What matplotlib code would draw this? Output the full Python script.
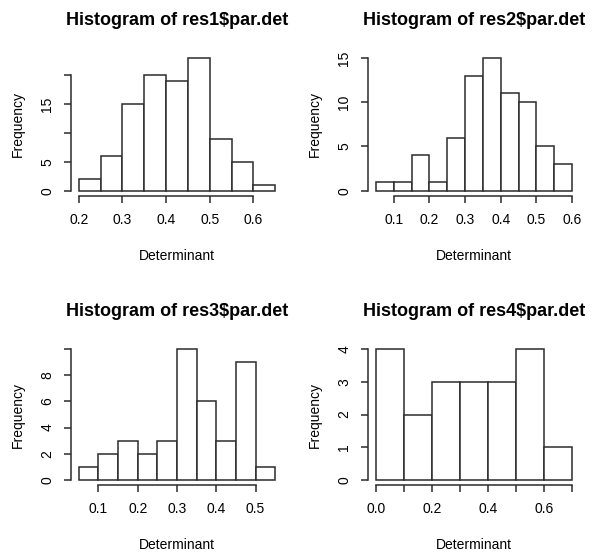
import matplotlib
matplotlib.use("Agg")
from matplotlib import pyplot as plt

plt.rcParams['font.family'] = ['Liberation Sans', 'DejaVu Sans']

# bin edges and counts for each histogram
breaks1 = [0.2, 0.25, 0.3, 0.35, 0.4, 0.45, 0.5, 0.55, 0.6, 0.65]
counts1 = [2, 6, 15, 20, 19, 23, 9, 5, 1]
breaks2 = [0.05, 0.1, 0.15, 0.2, 0.25, 0.3, 0.35, 0.4, 0.45, 0.5, 0.55, 0.6]
counts2 = [1, 1, 4, 1, 6, 13, 15, 11, 10, 5, 3]
breaks3 = [0.05, 0.1, 0.15, 0.2, 0.25, 0.3, 0.35, 0.4, 0.45, 0.5, 0.55]
counts3 = [1, 2, 3, 2, 3, 10, 6, 3, 9, 1]
breaks4 = [0.0, 0.1, 0.2, 0.3, 0.4, 0.5, 0.6, 0.7]
counts4 = [4, 2, 3, 3, 3, 4, 1]

titles = ["Histogram of res1$par.det", "Histogram of res2$par.det",
          "Histogram of res3$par.det", "Histogram of res4$par.det"]

xticks1 = [0.2, 0.3, 0.4, 0.5, 0.6]
xlabels1 = ["0.2", "0.3", "0.4", "0.5", "0.6"]
yticks1 = [0, 5, 10, 15, 20]
ylabels1 = ["0", "5", "", "15", ""]

xticks2 = [0.1, 0.2, 0.3, 0.4, 0.5, 0.6]
xlabels2 = ["0.1", "0.2", "0.3", "0.4", "0.5", "0.6"]
yticks2 = [0, 5, 10, 15]
ylabels2 = ["0", "5", "10", "15"]

xticks3 = [0.1, 0.2, 0.3, 0.4, 0.5]
xlabels3 = ["0.1", "0.2", "0.3", "0.4", "0.5"]
yticks3 = [0, 2, 4, 6, 8, 10]
ylabels3 = ["0", "2", "4", "6", "8", ""]

xticks4 = [0.0, 0.1, 0.2, 0.3, 0.4, 0.5, 0.6, 0.7]
xlabels4 = ["0.0", "", "0.2", "", "0.4", "", "0.6", ""]
yticks4 = [0, 1, 2, 3, 4]
ylabels4 = ["0", "1", "2", "3", "4"]

W, H = 594, 554
fig = plt.figure(figsize=(W / 100, H / 100), dpi=100)

# plot regions in pixels: left, right, top, bottom
regions = [(71, 283, 52.5, 196), (368, 580, 52.5, 196),
           (71, 283, 344, 485), (368, 580, 344, 485)]

panels = [
    (breaks1, counts1, xticks1, xlabels1, yticks1, ylabels1),
    (breaks2, counts2, xticks2, xlabels2, yticks2, ylabels2),
    (breaks3, counts3, xticks3, xlabels3, yticks3, ylabels3),
    (breaks4, counts4, xticks4, xlabels4, yticks4, ylabels4),
]

line_col = "#2b2b2b"

for (l, r, t, b), (brk, cnt, xt, xl, yt, yl), title in zip(regions, panels, titles):
    ax = fig.add_axes([l / W, 1 - b / H, (r - l) / W, (b - t) / H])
    widths = [brk[i + 1] - brk[i] for i in range(len(cnt))]
    ax.bar(brk[:-1], cnt, width=widths, align="edge", color="white",
           edgecolor=line_col, linewidth=1.1)
    xpad = (brk[-1] - brk[0]) * 0.04
    ax.set_xlim(brk[0] - xpad, brk[-1] + xpad)
    ymax = max(cnt)
    ax.set_ylim(-ymax * 0.04, ymax * 1.04)

    ax.set_xticks(xt)
    ax.set_xticklabels(xl)
    ax.set_yticks(yt)
    ax.set_yticklabels(yl)

    for side in ["top", "right"]:
        ax.spines[side].set_visible(False)
    ax.spines["left"].set_bounds(yt[0], yt[-1])
    ax.spines["bottom"].set_bounds(xt[0], xt[-1])
    for side in ["left", "bottom"]:
        ax.spines[side].set_color(line_col)
        ax.spines[side].set_linewidth(1.1)

    ax.tick_params(axis="both", length=5, width=1.1, color=line_col,
                   labelsize=10, pad=7)
    ax.tick_params(axis="y", labelrotation=90)
    for lab in ax.get_yticklabels():
        lab.set_va("center")

    ax.set_title(title, fontsize=13, fontweight="bold", pad=20)
    ax.set_xlabel("Determinant", fontsize=10, labelpad=16)
    ax.set_ylabel("Frequency", fontsize=10, labelpad=11)

fig.savefig("out.png", dpi=100)
